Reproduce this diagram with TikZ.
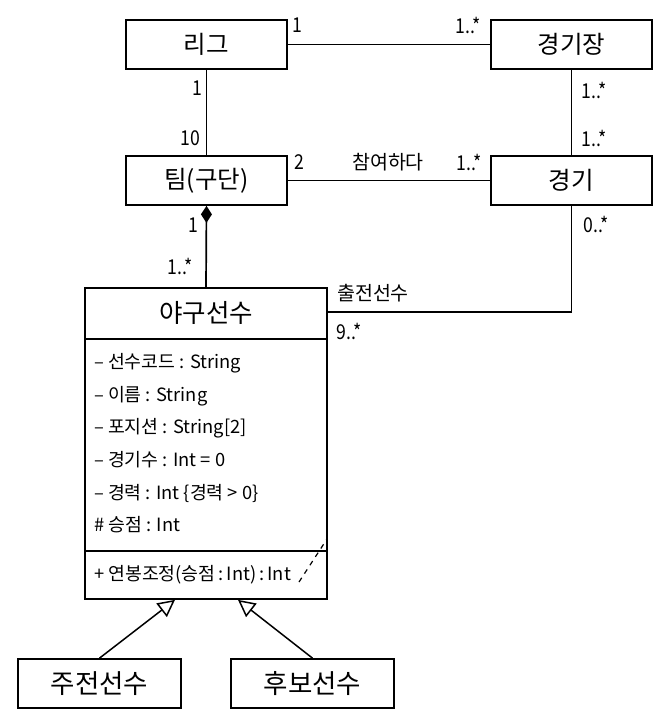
\documentclass[tikz,border=0pt]{standalone}
\usepackage{fontspec}
\setmainfont{Noto Sans CJK KR}
\newfontfamily\condfont[FakeStretch=0.86]{Noto Sans CJK KR}
\usetikzlibrary{arrows.meta,calc}
\tikzset{
  umlbox/.style={draw, line width=1.7pt, minimum width=161pt, minimum height=49pt, inner sep=0pt, font=\fontsize{24.5}{24.5}\selectfont},
  bigbox/.style={draw, line width=1.7pt, minimum width=163pt, minimum height=49pt, inner sep=0pt, font=\fontsize{26.5}{26.5}\selectfont},
  mult/.style={inner sep=0pt, font=\condfont\fontsize{20.5}{20.5}\selectfont},
  rel/.style={inner sep=0pt, font=\fontsize{19.5}{19.5}\selectfont},
  attr/.style={inner sep=0pt, anchor=west, font=\fontsize{18.3}{18.3}\selectfont},
  conn/.style={line width=1.7pt},
}
\begin{document}
\begin{tikzpicture}[x=1pt,y=-1pt]
\useasboundingbox (0,0) rectangle (670,724);
% class boxes
\node[umlbox] (liga) at (206.5,44.5) {리그};
\node[umlbox] (stadium) at (571.5,44.5) {경기장};
\node[umlbox] (team) at (206.5,180.5) {팀(구단)};
\node[umlbox] (game) at (571.5,180.5) {경기};
\node[draw, line width=1.7pt, minimum width=242pt, minimum height=311pt, inner sep=0pt] (player) at (206,443.5) {};
\node[inner sep=0pt, font=\fontsize{25.5}{25.5}\selectfont] (ptitle) at (206,313) {야구선수};
\node[bigbox] (starter) at (99.5,683.5) {주전선수};
\node[bigbox] (sub) at (312.5,683.5) {후보선수};
% compartments
\coordinate (d1l) at (85,339); \coordinate (d1r) at (327,339);
\coordinate (d2l) at (85,551); \coordinate (d2r) at (327,551);
\draw[conn] (d1l) -- (d1r);
\draw[conn] (d2l) -- (d2r);
% attributes
\node[attr] (a1) at (94,363) {– 선수코드 : String};
\node[attr] (a2) at (94,396) {– 이름 : String};
\node[attr] (a3) at (94,428) {– 포지션 : String[2]};
\node[attr] (a4) at (94,460) {– 경기수 : Int = 0};
\node[attr] (a5) at (94,493) {– 경력 : Int \{경력 > 0\}};
\node[attr] (a6) at (94,525) {\# 승점 : Int};
\node[attr] (op1) at (94,575) {+ 연봉조정(승점\,:\,Int)\,:\,Int};
% dashed mark
\coordinate (ds) at (299,582); \coordinate (de) at (327,539);
\draw[line width=1.2pt, dash pattern=on 5pt off 5pt] (ds) -- (de);
% associations
\draw[conn] (liga.east) -- (stadium.west);
\draw[conn] (liga.south) -- (team.north);
\draw[conn] (stadium.south) -- (game.north);
\draw[conn] (team.east) -- (game.west);
\draw[conn, {Diamond[length=17pt,width=11pt]}-] (team.south) -- (player.north);
\coordinate (pj) at (327,312);
\draw[conn] (game.south) |- (pj);
% generalizations
\draw[line width=1.5pt, -{Triangle[open,length=17pt,width=17pt,fill=white]}] (starter.north) -- ($(player.south)+(-31,0)$);
\draw[line width=1.5pt, -{Triangle[open,length=17pt,width=17pt,fill=white]}] (sub.north) -- ($(player.south)+(32,0)$);
% multiplicities and labels
\node[mult] (m1) at (297,25) {1};
\node[mult] (m2) at (468,25) {1..*};
\node[mult] (m3) at (197,88) {1};
\node[mult] (m4) at (190,138) {10};
\node[mult] (m5) at (594,90) {1..*};
\node[mult] (m6) at (594,138) {1..*};
\node[mult] (m7) at (299,162) {2};
\node[rel] (rel1) at (388,162) {참여하다};
\node[mult] (m8) at (469,162) {1..*};
\node[mult] (m9) at (193,225) {1};
\node[mult] (m10) at (180,266) {1..*};
\node[mult] (m11) at (596,224) {0..*};
\node[rel] (rel2) at (373,293) {출전선수};
\node[mult] (m12) at (349,331) {9..*};
\end{tikzpicture}
\end{document}
